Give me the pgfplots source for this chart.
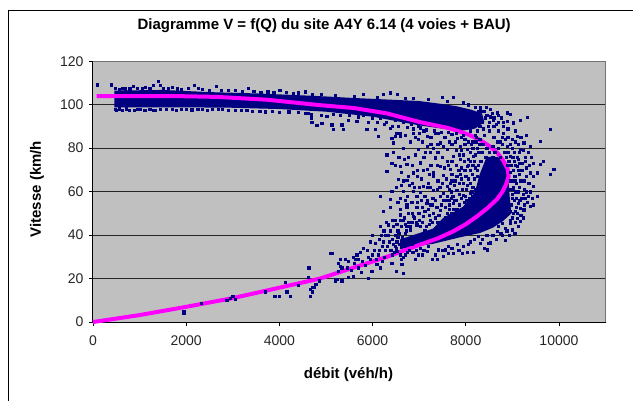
\documentclass[border=0pt]{standalone}
\usepackage{pgfplots}
\usepackage{fontspec}
\setmainfont{Liberation Sans}
\pgfplotsset{compat=1.18}
\definecolor{plotgray}{HTML}{C0C0C0}
\definecolor{dotnavy}{HTML}{000080}
\definecolor{fitpink}{HTML}{FF00FF}

\begin{document}
\begin{tikzpicture}
  % page frame, 1pt = 1px of the reference
  \fill[white] (-93pt,-78.7pt) rectangle (540pt,322.3pt);
  \draw[black,line width=1pt] (-84.5pt,-78.7pt) -- (-84.5pt,311.8pt) -- (540pt,311.8pt);
  \begin{axis}[
      scale only axis,
      width=513pt,
      height=261pt,
      xmin=0, xmax=11000,
      ymin=0, ymax=120,
      xtick={0,2000,4000,6000,8000,10000},
      ytick={0,20,40,60,80,100,120},
      scaled x ticks=false,
      xtick pos=bottom,
      ytick pos=left,
      tick align=outside,
      major tick length=4pt,
      tick style={black,line width=0.8pt},
      ymajorgrids=true,
      grid style={black,line width=0.9pt,opacity=0.8},
      axis background/.style={fill=plotgray},
      axis line style={draw=gray!90!black,line width=1pt},
      clip=false,
      /pgf/number format/1000 sep={},
      /pgf/number format/assume math mode=true,
      ticklabel style={font=\fontsize{14}{15}\selectfont,text=black!85},
      xticklabel style={yshift=-6pt},
      yticklabel style={xshift=-2pt},
      title={Diagramme V = f(Q) du site A4Y 6.14 (4 voies + BAU)},
      title style={at={(rel axis cs:0.451,1.112)},anchor=center,font=\bfseries\fontsize{15}{16}\selectfont},
      xlabel={débit (véh/h)},
      xlabel style={at={(rel axis cs:0.4985,-0.202)},anchor=center,font=\bfseries\fontsize{15}{16}\selectfont},
      ylabel={Vitesse (km/h},
      ylabel style={at={(rel axis cs:-0.109,0.51)},anchor=center,rotate=0,font=\bfseries\fontsize{15}{16}\selectfont},
    ]
    \draw[black,line width=1pt] (axis cs:0,120) -- (axis cs:0,0) -- (axis cs:11000,0);

    % solid core of the free-flow branch (points merge there)
    \addplot[fill=dotnavy,draw=none] coordinates {
      (460,106.5)(1500,106.8)(2500,105.8)(3500,105.2)(4500,104.3)(5000,103.8)(5500,103.2)(6000,102.7)
      (6500,102.2)(7000,101.7)(7500,100.3)(7800,99.3)(8100,97.8)(8350,96)(8400,92)(8200,89)(7900,88)
      (7500,89)(7000,90.5)(6500,92.5)(6000,94.5)(5000,96.8)(4000,98)(3000,98.6)(2000,98.8)(1000,98.8)(460,98.8)
    } -- cycle;
    % solid core of the congested branch
    \addplot[fill=dotnavy,draw=none] coordinates {
      (8950,56)(8980,50)(8800,46.5)(8590,43.5)(8310,41)(7880,39)(7300,36)(6800,34.5)(6590,33.5)
      (6590,38)(6870,40)(7300,43)(7520,48)(7940,53)(8200,60)(8300,68)(8450,76)(8700,76)(8900,70)
    } -- cycle;

    \addplot[only marks,mark=square*,mark size=1.1pt,color=dotnavy] coordinates {
      % low flow
      (1950,5)(1950,4)(2330,8.5)(2870,10)(2950,11)(3000,12)(3050,10.5)(3690,14)(3900,12)(3990,12)
      (4120,18.5)(4160,14)(4240,12)(4400,17)(4630,25)(4620,20.5)(4660,12)(4670,15)(4700,14)(4710,16)
      (4750,16)(4780,17.5)(4860,19)
      % congested tail
      (5089,31.8)(5130,31.8)(5268,27)(5303,28.8)(5411,28.8)(5483,28)(5303,25.7)(5268,23.4)(5339,25)
      (5196,19)(5339,19)(5230,19.6)(5483,20.8)(5590,21)(5912,20.3)(5984,23.4)(5662,31)(5626,29)
      (5590,30)(5805,34)(5948,37)(6055,36.4)(6163,44)(6234,51)(6378,53)(6342,44.8)(6485,47)(6593,49.4)
      (6735,54)(6506,23.4)(6628,26.5)(6650,22.6)(6163,25)(6091,26.5)(6199,28)(6413,27)(6915,29)
      (7273,29)(7380,29)(7344,31)(7523,30.3)(7165,32.6)(7415,33.3)(7559,33.3)(7738,31.8)(7917,31.8)
      (8025,32)(8168,32)(8454,33.3)(8490,36.4)(8848,37.6)(8311,36.4)(8096,37)(8275,39.5)(8669,41.8)
      (8991,42.5)(8776,45.6)(8955,45.6)(9098,47.9)(9170,46.4)(9242,51.7)(9385,53.2)(9456,54)(9170,52.5)
      (9027,50.2)(9315,55)(9134,54.7)(5700,25)(5780,28)(5850,26)(5900,30)(5990,31)(6040,33)(6120,31)
      (6200,35)(6280,33)(6350,37)(6420,31)(6480,35)(6540,39)(6280,40)(6140,38)(6000,40)(6380,42)
      (6450,44)(6540,42)(6660,30)(6740,32)(5540,24)(5450,25)(5760,23)(6250,30)
      (5600,27)(5680,29)(5730,32)(5880,33)(5950,29)(6080,29)(6150,33)(6230,37)(6310,35)(6390,33)
      (6460,32)(6520,37)(6590,31)(6620,29)(6700,31)(6780,33)(6860,32)(6930,33)(7020,34)(6980,31)
      (7100,33)(7200,35)(7060,31)(6480,40)(6560,41)(6620,44)(6420,38)(6340,40)(6240,42)(6180,40)
      (6300,46)(6420,47)(6520,45)(6600,47)(6680,48)(6720,42)(6800,44)(6760,46)(6640,39)(6700,41)
      (7500,33)(7620,35)(7700,34)(7820,36)(7950,35)(8050,36)(8180,38)(8350,38)(8450,40)(8580,40)
      (8650,38)(8750,41)(8880,42)(8700,44)(8520,36.5)(8400,34)(7850,33)(7620,31.5)
      (6500,34)(6440,36)(6570,36)(6520,32.5)(6680,35)(6750,37)(6850,36)(6950,38)(7050,39)(7150,41)
      % right-hand side of the nose
      (9814,88.6)(9313,94.4)(9170,93)(9098,85.6)(9600,83.3)(9385,81)(9242,82.5)(9886,70.3)(9814,68)
      (9671,74)(9600,72.6)(9456,73)(9349,78)(9170,79.4)(9528,68.7)(9385,68.7)(9456,62.6)(9349,58)
      (9528,58)(9242,65)(9098,71.8)(8955,76.4)(8884,81)(8990,84)(8812,87)(8740,83)(9100,76)(9200,73)
      (9300,71)(9050,67)(9150,68)(9250,61)(9020,62)(9120,60)(9350,64)(9200,57)(9080,57)(8980,72)
      (9400,76)(9270,76)(9000,80)(9130,82)(9060,88)(8900,89)(8800,92)(8700,88)(8600,90)(8500,92)
      (8450,95)(8600,94)(8700,95)(8850,84)(9300,86)
      (9000,48)(9060,51)(8980,54)(9040,56)(9110,50)(9180,49)(9260,54)(9080,53)(9160,56)(9300,60)
      (9230,59)(9150,62)(9060,60)(8990,59)(9000,65)(9080,64)(9180,65)(9300,67)(9440,67)(9120,70)
      (9200,70)(9020,70)(8950,69)(8920,74)(9040,74)(9140,73)(9280,74)(9360,72)(8900,78)(9040,78)
      (9150,78)(9240,79)(8950,82)(9060,83)(9180,85)(8900,85)(8780,85)(8680,83)(8580,81)(8700,80)
      (8820,78)(8780,82)(8620,78)(8740,76)(8900,72)(8860,76)(9380,60)(9420,57)(9280,57)(9060,46)
      (8960,47)(9130,44)(9240,48)(8850,43)(8940,40)(8780,40)(9050,41)
      (8960,51)(9000,57)(8950,61)(9010,61)(9060,65)(8960,65)(8960,72)(9010,76)(9070,72)(9130,75)
      % upper rim near the nose
      (7487,103.5)(7738,103.5)(6879,103)(6521,104.7)(6378,105.5)(6234,105)(7953,100.9)(8526,98)
      (8955,95.5)(8884,96.3)(8669,96.3)(8311,98.6)(8597,93)(8884,92.5)(9027,91.7)(8812,90)(8526,94.5)
      (8200,99)(8050,100)(7600,101.5)(7200,102.5)(6700,103)(6100,103.5)(5600,104)(5800,105)(5200,104.5)
      (4900,105)(4700,104.8)(4400,105.5)(8400,97)(8500,88)(8400,86)(8300,84)(8600,85)
      (8350,92)(8420,94)(8480,90)(8380,89)(8300,90)(8250,88)(8200,86)(8100,88)(7950,86)(7800,87)
      (8560,96)(8440,99)(8340,97)(8260,97)(8700,92)(8760,94)(8650,91)
      % free-flow top fringe
      (100,109.2)(400,109.2)(480,107.6)(560,107.3)(620,107.5)(700,107.4)(790,107.4)(860,108.6)(950,107.5)
      (1050,107.7)(1120,108.2)(1220,107.4)(1300,109)(1400,110.7)(1450,109)(1500,107.6)(1620,107.6)
      (1700,108)(1800,107.4)(1900,107.3)(2050,107.5)(2170,109)(2260,107.6)(2350,107.3)(2500,106.8)(2650,108.5)
      (2750,106.8)(2900,106.5)(3050,106.6)(3200,106.3)(3340,107.5)(3450,106.2)(3600,105.8)(3750,106)(3880,105.5)
      (4010,106.5)(4150,105.6)(4300,105.3)(4550,106)
      % free-flow bottom fringe
      (480,98)(500,97.5)(560,98.2)(620,97.3)(720,98.2)(780,97.6)(880,97.4)(950,98)(1010,98)(1110,97.3)
      (1220,98)(1290,97.5)(1340,97.3)(1450,98)(1580,97.8)(1700,98)(1780,97.4)(1900,98)(2000,98)
      (2120,97.7)(2250,98)(2340,98)(2450,97.4)(2560,98)(2680,97.8)(2780,98)(2900,97.5)(3050,97.5)
      (3180,97.3)(3300,97.5)(3420,97)(3580,97)(3700,96.8)(3850,97)(4000,96.6)(4200,96.8)(4400,96.4)
      (4560,96)(4690,95.5)
      % below the free-flow branch
      (4690,94)(4695,92)(4800,90.7)(4620,96)(4900,95)(5017,94.7)(4910,91.6)(5124,90.8)(5160,88.6)
      (5340,90.8)(5375,88.6)(5480,93)(5661,92.4)(5876,88.6)(6055,88.6)(6162,94)(6127,85.5)(6377,89.3)
      (6413,84.7)(6590,85.5)(6520,87)(6700,86)(6880,89)(6920,85)(7100,88)(5300,95)(5500,95)(5700,94.5)
      (5900,92)(6300,92)(6550,90)(6750,89.5)(7000,87)(7250,85)(7400,87)(7550,85)(7700,86.5)(7900,85)
      (8050,83)(6250,91)(6420,90)(6480,93)(6650,92)(6830,91)(6980,90)(7150,88.5)(7320,88)(7480,87.5)
      (7630,87.5)(7820,84.5)(7980,84)(8150,83)(8230,85)(5150,95.5)(5650,96)(5800,95)(6000,94)(6100,92)
      % scatter between the branches
      (6306,77)(6413,73)(6306,69.5)(6592,71.8)(6735,72.6)(6556,65.7)(6664,65)(6772,67)(6879,68.7)
      (7022,73.3)(6915,77)(6986,79.4)(6485,85.6)(6592,87)(6449,82.5)(6664,80)(6879,87)(7022,89.4)
      (7165,85.6)(7344,87)(7452,82.5)(7595,79.4)(7237,78)(7344,75.6)(7165,70.3)(7308,68.7)(7452,71.8)
      (7738,76.4)(7881,75)(7666,70.3)(7810,67)(8024,71.8)(8168,76.4)(8024,79.5)(7881,81)(7595,62.6)
      (7380,61)(7165,61.9)(7022,59.6)(6879,60.3)(6664,60.3)(6413,60.3)(6163,58)(6378,56.5)(6734,65.4)
      (6950,67)(7092,62.4)(7307,67)(7520,67.7)(7665,63.9)(7808,60.8)(7522,59.3)(7307,60.8)(6949,57.8)
      (6734,53)(6949,53)(7164,54.7)(7379,53)(7522,56)(7737,54.7)(7951,58.5)(8095,59.3)(8095,63.9)
      (7808,67)(7092,48.6)(6877,48.6)(6663,47)(6949,44.8)(6734,44)(7235,47)(7450,51.6)(6806,42.5)
      (7130,78)(7250,82)(7700,82)(7800,79)(7500,76)(7600,74)(7950,77)(8100,74)(8200,71)(8250,67)
      (7900,71)(7700,65)(7400,65)(7200,64)(6850,64)(6600,57)(6750,58)(7050,66)(7250,72)(7100,76)
      (7400,78)(8150,80)(8250,80)(7800,72)(7950,64)(8000,67)(7350,56)(7600,58)(7200,52)(7050,56)
      (6850,50)(7350,48)(7500,46)(7150,44)(7300,50)(7650,52)(7800,56)(7900,52)(7700,48)
      % denser part of the cloud, q 7000 to 8700
      (7060,46)(7210,49)(7280,46)(7400,46)(7420,49)(7560,48)(7600,50)(7680,50)(7740,52)(7820,52)
      (7860,54)(7960,55)(8020,56)(8080,57)(8150,58)(8210,61)(8260,62)(8300,65)(7020,44)(7120,42)
      (7220,45)(6930,46)(6990,50)(7120,51)(7240,54)(7480,54)(7560,53)(7640,56)(7720,58)(7860,59)
      (7920,61)(8010,61)(8150,62)(8190,66)(8140,68)(8060,66)(7980,70)(7860,64)(7760,63)(7640,61)
      (7460,58)(7440,62)(7290,57)(7120,58)(7000,62)(7240,62)(7500,64)(7580,66)(7700,68)(7880,68)
      (8060,72)(8180,74)(8260,72)(8320,74)(8360,78)(8280,78)(8200,77)(8100,78)(8430,76)(8500,78)
      (8580,76)(8650,74)(8760,72)(8450,80)(8380,82)(8300,82)(8220,83)(8120,82)(7980,82)(7900,79)
      (7780,83)(7640,83)(7520,81)(7400,82)(7300,80)(7180,81)(7060,83)(6980,84)(6800,83)(6760,76)
      (6680,75)(6560,76)(6480,72)(6440,78)(6620,69)(6850,72)(6960,70)(7080,70)(7220,68)(7380,72)
      (7540,71)(7620,72)(7700,74)(7860,77)(7960,74)(8100,70)(6500,62)(6620,63)(6780,63)(6900,62)
      (6540,55)(6700,56)(6840,55)(6960,55)(7060,53)(7180,56)(7280,54)(6600,52)(6760,50)(6900,48)
      (7000,47)(6840,46)(6700,45)
      (8250,70)(8150,72)(8050,75)(8030,63)(7900,66)(7850,70)(7780,65)(7680,60)(8090,55)(8130,60)
      (7990,58)(7900,57)(7760,56)(7580,56)(7640,54)(7680,57)
    };

    % fitted curve
    \addplot[fitpink,line width=4pt,line join=round] coordinates {
      (0,0)(1000,3.2)(2000,7)(3000,11)(4000,15.8)(4870,20)(5590,25)(6310,30)(7020,35.6)(7400,38.5)
      (7730,41.7)(8000,45)(8240,48.6)(8470,52.5)(8670,56.5)(8790,60)(8870,63.5)(8920,67)(8900,70.5)
      (8800,74.5)(8680,77.8)(8520,80.8)(8320,83.6)(8090,86)(7850,87.8)(7600,89.4)(7020,92)(6310,96)
      (5590,98.5)(4870,99.8)(3730,102.3)(2660,103.6)(1720,104)(80,104)
    };
  \end{axis}
\end{tikzpicture}
\end{document}
